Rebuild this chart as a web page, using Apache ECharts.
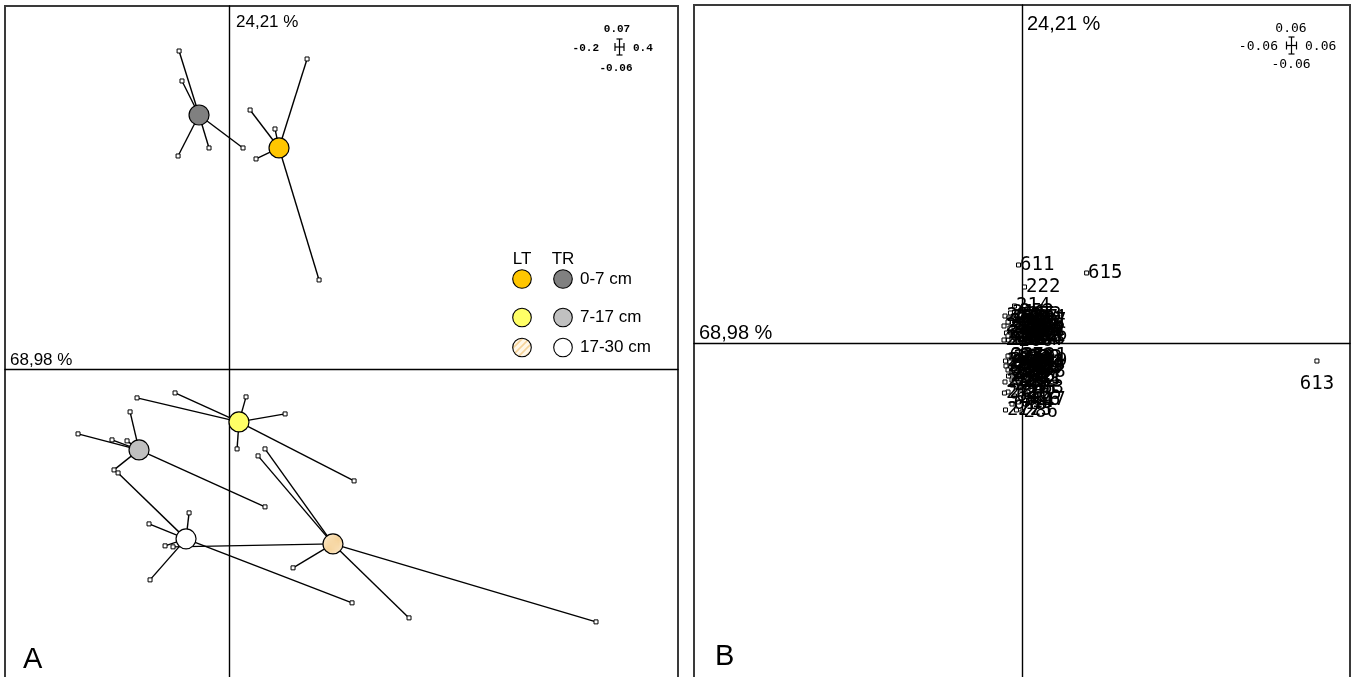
<!DOCTYPE html>
<html><head><meta charset="utf-8">
<script src="https://cdn.jsdelivr.net/npm/echarts@6/dist/echarts.min.js"></script>
<style>html,body{margin:0;padding:0;background:#fff}#c{width:1353px;height:677px}</style>
</head><body><div id="c"></div>
<script>
// ---------- Panel A: class centroids (site x depth) with their samples ----------
const lt07Center = [0.0443, 0.04262];
const lt07Samples = [[0.0693, 0.05978], [0.0185, 0.04994], [0.0407, 0.04628], [0.0238, 0.04050], [0.0800, 0.01716]];
const tr07Center = [-0.0270, 0.04898];
const tr07Samples = [[-0.0448, 0.06132], [-0.0422, 0.05554], [-0.0457, 0.04107], [-0.0181, 0.04262], [0.0122, 0.04262]];
const lt717Center = [0.0086, -0.01022];
const lt717Samples = [[-0.0823, -0.00559], [-0.0484, -0.00463], [0.0149, -0.00540], [0.0497, -0.00868], [0.0069, -0.01543], [0.1112, -0.02160]];
const tr717Center = [-0.0805, -0.01562];
const tr717Samples = [[-0.0885, -0.00829], [-0.1349, -0.01253], [-0.1046, -0.01369], [-0.0912, -0.01388], [-0.1028, -0.01948], [0.0318, -0.02661]];
const lt1730Center = [0.0924, -0.03375];
const lt1730Samples = [[0.0318, -0.01543], [0.0256, -0.01678], [0.0568, -0.03837], [-0.0502, -0.03432], [0.1602, -0.04802], [0.3269, -0.04879]];
const tr1730Center = [-0.0386, -0.03278];
const tr1730Samples = [[-0.0359, -0.02777], [-0.0716, -0.02989], [-0.0573, -0.03413], [-0.0707, -0.04069], [0.1094, -0.04512], [-0.0992, -0.02006]];

const siteNames = ['LT', 'TR'];
const depthNames = ['0-7 cm', '7-17 cm', '17-30 cm'];
const axis1Label = '68,98 %';
const axis2Label = '24,21 %';

// axis windows of both factorial maps
const rangeAx = [-0.2, 0.4];
const rangeAy = [-0.06, 0.07];
const rangeBx = [-0.06, 0.06];
const rangeBy = [-0.06, 0.06];
const scaleTextA = ['0.07', '-0.2', '0.4', '-0.06'];
const scaleTextB = ['0.06', '-0.06', '0.06', '-0.06'];

// ---------- Panel B: labelled samples ----------
const bLabels = ['611', '615', '222', '613',
  '214', '216', '217', '227', '212', '221', '225', '213', '226', '215', '223', '224', '218', '228',
  '251', '252', '253', '254', '255', '256', '257', '258', '259', '261', '262', '263', '264', '265', '266', '267',
  '291', '292', '293', '294', '295', '296', '297', '298', '299', '621', '622', '623', '624', '625', '626',
  '231', '232', '233', '219', '234', '235', '236', '237', '238', '239', '241', '242', '243',
  '268', '269', '274', '275', '276', '277', '278', '279', '281', '282',
  '627', '628', '629', '631', '632', '633', '634', '635', '636', '637', '638', '639', '641',
  '244', '245', '283', '284', '285', '612', '616', '614', '617', '618', '271', '273', '272', '286'];
const bX = [-0.00064, 0.01182, 0.00046, 0.05395,
  -0.00137, -0.00211, 0.00009, 0.00156, -0.00247, -0.00174, -0.00064, 0.00082, 0.00174, -0.00284, -0.00137, 0.00009, 0.00137, -0.00247,
  -0.00311, -0.00073, 0.00073, -0.00238, -0.00037, 0.00110, -0.00329, -0.00110, 0.00037, -0.00183, 0.00146, -0.00037, 0.00091, -0.00329, -0.00091, 0.00055,
  -0.00256, -0.00146, 0.00000, 0.00146, -0.00220, -0.00073, 0.00073, -0.00110, 0.00037, 0.00146, -0.00256, -0.00183, 0.00000, -0.00037, 0.00110,
  -0.00229, -0.00082, 0.00082, 0.00174, -0.00302, -0.00156, 0.00009, -0.00211, -0.00064, 0.00119, -0.00247, -0.00101, 0.00046,
  -0.00183, -0.00037, 0.00110, -0.00293, -0.00128, 0.00037, 0.00146, -0.00183, -0.00311, -0.00037,
  -0.00256, -0.00110, 0.00037, 0.00165, -0.00220, -0.00073, 0.00073, -0.00256, -0.00110, 0.00146, -0.00037, -0.00183, 0.00073,
  -0.00174, -0.00027, 0.00110, -0.00256, 0.00073, -0.00137, 0.00046, -0.00064, 0.00146, -0.00183, -0.00321, -0.00101, -0.00302, 0.00000];
const bY = [0.01385, 0.01243, 0.00994, -0.00320,
  0.00657, 0.00533, 0.00444, 0.00391, 0.00373, 0.00284, 0.00231, 0.00213, 0.00142, 0.00178, 0.00107, 0.00089, 0.00071, 0.00053,
  0.00479, 0.00550, 0.00497, 0.00444, 0.00337, 0.00302, 0.00302, 0.00408, 0.00266, 0.00195, 0.00231, 0.00160, 0.00053, 0.00053, 0.00036, 0.00124,
  0.00373, 0.00444, 0.00373, 0.00444, 0.00266, 0.00302, 0.00337, 0.00124, 0.00195, 0.00124, 0.00124, 0.00053, 0.00053, 0.00497, 0.00249,
  -0.00230, -0.00248, -0.00266, -0.00320, -0.00320, -0.00355, -0.00391, -0.00444, -0.00479, -0.00426, -0.00586, -0.00621, -0.00657,
  -0.00266, -0.00284, -0.00355, -0.00408, -0.00408, -0.00515, -0.00515, -0.00550, -0.00692, -0.00692,
  -0.00231, -0.00302, -0.00266, -0.00231, -0.00337, -0.00373, -0.00408, -0.00479, -0.00515, -0.00444, -0.00586, -0.00657, -0.00621,
  -0.00746, -0.00817, -0.00799, -0.00870, -0.00905, -0.00941, -0.01012, -0.01047, -0.01012, -0.01083, -0.00888, -0.01189, -0.01189, -0.01225];

// hatched fill for the LT 17-30 cm class
function hatch() {
  const c = document.createElement('canvas');
  c.width = 7; c.height = 7;
  const g = c.getContext('2d');
  g.fillStyle = '#fff7e8'; g.fillRect(0, 0, 7, 7);
  g.strokeStyle = '#f6d39a'; g.lineWidth = 1.6;
  g.beginPath();
  g.moveTo(-1, 8); g.lineTo(8, -1);
  g.moveTo(-4.5, 4.5); g.lineTo(4.5, -4.5);
  g.moveTo(2.5, 11.5); g.lineTo(11.5, 2.5);
  g.stroke();
  return { image: c, repeat: 'repeat' };
}
const hatchFill = hatch();

const fills = {
  lt07: '#ffc600', tr07: '#808080',
  lt717: '#ffff66', tr717: '#c0c0c0',
  lt1730: hatchFill, tr1730: '#ffffff'
};

function star(center, samples, fill) {
  return [
    { type: 'lines', coordinateSystem: 'cartesian2d', xAxisIndex: 0, yAxisIndex: 0, silent: true, z: 1,
      data: samples.map(p => ({ coords: [center, p] })),
      lineStyle: { color: '#000', width: 1.4, opacity: 1 } },
    { type: 'scatter', xAxisIndex: 0, yAxisIndex: 0, silent: true, z: 2,
      data: samples, symbol: 'rect', symbolSize: 4,
      itemStyle: { color: '#fff', borderColor: '#000', borderWidth: 1, opacity: 1 } },
    { type: 'scatter', xAxisIndex: 0, yAxisIndex: 0, silent: true, z: 3,
      data: [center], symbol: 'circle', symbolSize: 20,
      itemStyle: { color: fill, borderColor: '#000', borderWidth: 1.2, opacity: 1 } }
  ];
}

function axisPair(range, idx) {
  return {
    type: 'value', gridIndex: idx, min: range[0], max: range[1],
    axisLine: { show: true, onZero: true, lineStyle: { color: '#000', width: 1.4 } },
    axisTick: { show: false }, axisLabel: { show: false }, splitLine: { show: false }
  };
}

// small scale cross in the corner of each panel
function scaleCross(cx, cy, hw, hh, texts, font, size, weight, pos) {
  const ln = (x1, y1, x2, y2) => ({ type: 'line', shape: { x1, y1, x2, y2 }, style: { stroke: '#000', lineWidth: 1.2 }, silent: true });
  const tx = (t, x, y, align) => ({ type: 'text', x, y, silent: true,
    style: { text: t, fontFamily: font, fontSize: size, fontWeight: weight, fill: '#000', align, verticalAlign: 'middle' } });
  return [
    ln(cx - hw, cy, cx + hw, cy), ln(cx - hw, cy - 4, cx - hw, cy + 4), ln(cx + hw, cy - 4, cx + hw, cy + 4),
    ln(cx, cy - hh, cx, cy + hh), ln(cx - 3, cy - hh, cx + 3, cy - hh), ln(cx - 3, cy + hh, cx + 3, cy + hh),
    tx(texts[0], pos[0][0], pos[0][1], 'center'),
    tx(texts[1], pos[1][0], pos[1][1], 'right'),
    tx(texts[2], pos[2][0], pos[2][1], 'left'),
    tx(texts[3], pos[3][0], pos[3][1], 'center')
  ];
}

const txt = (t, x, y, size, align) => ({ type: 'text', x, y, silent: true, z: 10,
  style: { text: t, fontFamily: 'Liberation Sans', fontSize: size, fill: '#000', align: align || 'left', verticalAlign: 'middle' } });
const circ = (cx, cy, fill) => ({ type: 'circle', silent: true, z: 10,
  shape: { cx, cy, r: 9.3 }, style: { fill, stroke: '#000', lineWidth: 1.1 } });

const legendRows = [279, 317.5, 347.5];
const legendFillsLT = [fills.lt07, fills.lt717, fills.lt1730];
const legendFillsTR = [fills.tr07, fills.tr717, fills.tr1730];

const graphic = [
  txt(axis2Label, 236, 22, 17), txt(axis1Label, 10, 360, 17), txt('A', 23, 660, 29),
  txt(axis2Label, 1027, 24, 20), txt(axis1Label, 699, 333, 20), txt('B', 715, 657, 29),
  txt(siteNames[0], 522, 259, 17, 'center'), txt(siteNames[1], 563, 259, 17, 'center')
];
legendRows.forEach((y, i) => {
  graphic.push(circ(522, y, legendFillsLT[i]), circ(563, y, legendFillsTR[i]), txt(depthNames[i], 580, y, 17));
});
graphic.push(...scaleCross(619.5, 47, 4.5, 8, scaleTextA, 'Liberation Mono', 11, 'bold',
  [[617, 29], [599, 48], [633, 48], [616, 68]]));
graphic.push(...scaleCross(1291.5, 45.5, 5, 8.5, scaleTextB, 'DejaVu Sans Mono', 13, 'normal',
  [[1291, 29], [1278, 47], [1305, 47], [1291, 65]]));

const series = [].concat(
  star(lt07Center, lt07Samples, fills.lt07),
  star(tr07Center, tr07Samples, fills.tr07),
  star(lt717Center, lt717Samples, fills.lt717),
  star(tr717Center, tr717Samples, fills.tr717),
  star(lt1730Center, lt1730Samples, fills.lt1730),
  star(tr1730Center, tr1730Samples, fills.tr1730)
);
series.push({
  type: 'scatter', xAxisIndex: 1, yAxisIndex: 1, silent: true, z: 3,
  symbol: 'rect', symbolSize: 4,
  itemStyle: { color: '#fff', borderColor: '#000', borderWidth: 1, opacity: 1 },
  label: { show: true, formatter: '{b}', position: 'right', distance: -1,
    fontFamily: 'DejaVu Sans Mono', fontSize: 19, color: '#000' },
  data: bLabels.map((l, i) => {
    const d = { name: l, value: [bX[i], bY[i]] };
    if (l === '613') d.label = { position: 'bottom', distance: 11 };
    return d;
  })
});

const chart = echarts.init(document.getElementById('c'), null, { renderer: 'canvas' });
chart.setOption({
  animation: false,
  backgroundColor: '#fff',
  grid: [
    { left: 5, top: 6, width: 673, height: 674, show: true, borderColor: '#3a3a3a', borderWidth: 2,
      containLabel: false, outerBoundsMode: 'none' },
    { left: 694, top: 5, width: 656, height: 676, show: true, borderColor: '#3a3a3a', borderWidth: 2,
      containLabel: false, outerBoundsMode: 'none' }
  ],
  xAxis: [axisPair(rangeAx, 0), axisPair(rangeBx, 1)],
  yAxis: [axisPair(rangeAy, 0), axisPair(rangeBy, 1)],
  series,
  graphic
});
</script>
</body></html>
